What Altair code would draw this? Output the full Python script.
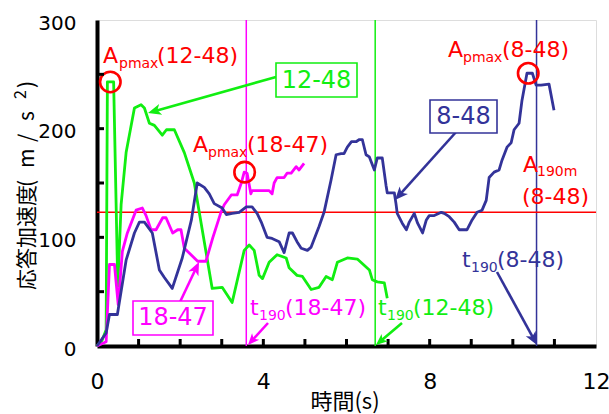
import math
import altair as alt
import pandas as pd

FONT = "Noto Sans CJK JP"   # Japanese text
LAT = "DejaVu Sans"         # numbers and Latin labels
OX, OY = 97, 20          # plot origin inside the page (padding)
W, H = 499, 326          # plot area size

GREEN = "#11ee11"
MAGENTA = "#ff00ff"
NAVY = "#333399"
RED = "#ff0000"

# ---- response acceleration time histories (time s, accel m/s2) ----
t_12_48 = [0, 0.12, 0.22, 0.25, 0.40, 0.50, 0.58, 0.70, 0.90, 1.06, 1.14, 1.26, 1.38,
           1.57, 1.67, 1.86, 2.10, 2.34, 2.77, 3.01, 3.25, 3.54, 3.66, 3.78, 3.90,
           3.98, 4.14, 4.33, 4.55, 4.62, 4.81, 4.94, 5.15, 5.34, 5.51, 5.66, 5.78,
           6.02, 6.26, 6.55, 6.62, 6.74, 6.91, 6.98]
a_12_48 = [0, 5, 15, 243, 243, 55, 130, 178, 219, 222, 219, 205, 203,
           194, 199, 199, 178, 150, 53, 54, 40, 88, 93, 88, 65,
           62, 77, 84, 81, 72, 65, 64, 52, 54, 64, 61, 77,
           81, 80, 70, 61, 59, 58, 44]

t_18_47 = [0, 0.22, 0.30, 0.42, 0.51, 0.61, 0.73, 0.94, 1.09, 1.18, 1.30, 1.42, 1.58,
           1.66, 1.82, 1.94, 2.02, 2.10, 2.42, 2.62, 2.78, 2.98, 3.06, 3.23, 3.37,
           3.47, 3.54, 3.61, 3.70, 3.73, 3.95, 4.14, 4.21, 4.26, 4.33, 4.50, 4.57,
           4.67, 4.79, 4.86, 4.98]
a_18_47 = [0, 4, 75, 75, 38, 87, 104, 125, 127, 120, 107, 107, 118,
           118, 104, 107, 107, 90, 78, 78, 99, 123, 130, 139, 139,
           150, 160, 159, 140, 143, 143, 143, 140, 150, 155, 155, 159,
           159, 165, 162, 168]

t_8_48 = [0, 0.22, 0.30, 0.49, 0.70, 0.90, 1.02, 1.14, 1.33, 1.50, 1.62, 1.81, 2.05,
          2.27, 2.41, 2.58, 2.70, 2.82, 3.01, 3.11, 3.25, 3.42, 3.59, 3.73, 3.85,
          3.95, 4.09, 4.21, 4.38, 4.50, 4.62, 4.70, 4.81, 4.91, 5.06, 5.15, 5.34,
          5.46, 5.63, 5.75, 5.87, 5.94, 6.02, 6.12, 6.23, 6.31, 6.38, 6.47, 6.55,
          6.67, 6.74, 6.86, 6.95, 6.98, 7.15, 7.19, 7.22, 7.34, 7.44, 7.51, 7.63,
          7.71, 7.83, 7.92, 7.99, 8.11, 8.28, 8.35, 8.47, 8.59, 8.71, 8.90, 9.02,
          9.14, 9.26, 9.36, 9.43, 9.55, 9.67, 9.74, 9.86, 9.96, 10.03, 10.15, 10.22,
          10.34, 10.47, 10.56, 10.68, 10.87, 10.99]
a_8_48 = [0, 12, 29, 29, 79, 104, 114, 114, 104, 70, 63, 53, 81,
          116, 150, 146, 140, 131, 127, 121, 122, 123, 128, 128, 122,
          114, 100, 99, 96, 86, 104, 104, 96, 90, 88, 91, 110,
          123, 153, 176, 177, 177, 183, 188, 188, 190, 190, 176, 174,
          162, 173, 173, 148, 141, 141, 131, 122, 113, 107, 114, 122,
          113, 104, 116, 120, 120, 123, 122, 119, 114, 107, 107, 116,
          123, 125, 134, 155, 160, 162, 171, 183, 187, 199, 205, 226,
          251, 251, 240, 240, 241, 217]

series_names = ["12-48", "18-47", "8-48"]
series_colors = [GREEN, MAGENTA, NAVY]

# peak points (A_pmax) of each record
pk_t = [0.32, 3.55, 10.37]
pk_a = [243, 160, 251]

# t190 times (vertical lines) and the A190m level (horizontal line)
t190 = [3.59, 6.69, 10.57]
t190_colors = [MAGENTA, GREEN, NAVY]
a190m = 123

x_ticks_minor = list(range(1, 12))
y_ticks_minor = [50, 100, 150, 200, 250]
x_labels = [0, 4, 8, 12]
y_labels = [0, 100, 200, 300]

rows = []
for name, ts, vs in [("12-48", t_12_48, a_12_48), ("18-47", t_18_47, a_18_47), ("8-48", t_8_48, a_8_48)]:
    for i, (t, v) in enumerate(zip(ts, vs)):
        rows.append({"series": name, "t": t, "a": v, "i": i})
df = pd.DataFrame(rows)

xscale = alt.Scale(domain=[0, 12], nice=False, zero=False)
yscale = alt.Scale(domain=[0, 300], nice=False)

xaxis = alt.Axis(values=x_labels, ticks=False, tickSize=0, grid=False, title=None,
                 domainWidth=4, domainColor="black", labelFontSize=22, labelFont=LAT,
                 labelColor="black", labelPadding=25, labelFlush=False)
yaxis = alt.Axis(values=y_labels, ticks=False, tickSize=0, grid=False, title=None,
                 domainWidth=4, domainColor="black", labelFontSize=20, labelFont=LAT,
                 labelColor="black", labelPadding=21, labelOffset=3)

X = alt.X("t:Q", scale=xscale, axis=xaxis)
Y = alt.Y("a:Q", scale=yscale, axis=yaxis)

lines = alt.Chart(df).mark_line(strokeWidth=2.8, strokeJoin="round").encode(
    x=X, y=Y,
    color=alt.Color("series:N", scale=alt.Scale(domain=series_names, range=series_colors), legend=None),
    order="i:Q",
)

vlines = alt.Chart(pd.DataFrame({"t": t190, "c": t190_colors})).mark_rule(strokeWidth=1.5).encode(
    x=X, y=alt.value(0), y2=alt.value(H),
    color=alt.Color("c:N", scale=None),
)
hline = alt.Chart(pd.DataFrame({"a": [a190m]})).mark_rule(strokeWidth=1.5, color=RED).encode(
    y=Y, x=alt.value(0), x2=alt.value(W),
)

peaks = alt.Chart(pd.DataFrame({"t": pk_t, "a": pk_a})).mark_point(
    shape="circle", size=420, filled=False, color=RED, strokeWidth=2.6, opacity=1
).encode(x=X, y=Y)

xt = alt.Chart(pd.DataFrame({"t": x_ticks_minor})).mark_rule(strokeWidth=3, color="black").encode(
    x=X, y=alt.value(H), y2=alt.value(H - 7))
yt = alt.Chart(pd.DataFrame({"a": y_ticks_minor})).mark_rule(strokeWidth=3, color="black").encode(
    y=Y, x=alt.value(0), x2=alt.value(7))


def text(s, x, y, size, color, align="left", baseline="alphabetic", angle=0, font=LAT):
    """A text piece positioned in page pixels."""
    return alt.Chart(pd.DataFrame({"s": [s]})).mark_text(
        font=font, fontSize=size, color=color, align=align, baseline=baseline, angle=angle
    ).encode(x=alt.value(x - OX), y=alt.value(y - OY), text="s:N")


def box(x0, y0, x1, y1, color):
    return alt.Chart(pd.DataFrame({"k": [0]})).mark_rect(
        fill="white", stroke=color, strokeWidth=1.6
    ).encode(x=alt.value(x0 - OX), x2=alt.value(x1 - OX), y=alt.value(y0 - OY), y2=alt.value(y1 - OY))


ARROW = "M0,-1L0.75,0.75L0,0.3L-0.75,0.75Z"


def arrow(x0, y0, x1, y1, color, head=15):
    dx, dy = x1 - x0, y1 - y0
    L = math.hypot(dx, dy)
    ux, uy = dx / L, dy / L
    r = head / 2
    cx, cy = x1 - r * ux, y1 - r * uy
    ang = math.degrees(math.atan2(dx, -dy)) % 360
    shaft = alt.Chart(pd.DataFrame({"k": [0]})).mark_rule(strokeWidth=2.6, color=color).encode(
        x=alt.value(x0 - OX), y=alt.value(y0 - OY), x2=alt.value(cx - OX), y2=alt.value(cy - OY))
    tip = alt.Chart(pd.DataFrame({"k": [0]})).mark_point(
        shape=ARROW, size=head * head, filled=True, color=color, opacity=1, angle=ang
    ).encode(x=alt.value(cx - OX), y=alt.value(cy - OY))
    return [shaft, tip]


MAIN, SUB, BOXF = 22, 14, 24
ann = []
# A_pmax labels
ann += [text("A", 103, 63, MAIN, RED), text("pmax", 119, 68, SUB, RED), text("(12-48)", 157, 63, MAIN, RED)]
ann += [text("A", 193, 152, MAIN, RED), text("pmax", 208, 157, SUB, RED), text("(18-47)", 247, 152, MAIN, RED)]
ann += [text("A", 448, 57, MAIN, RED), text("pmax", 463, 62, SUB, RED), text("(8-48)", 502, 57, MAIN, RED)]
ann += [text("A", 523, 172, MAIN, RED), text("190m", 537, 176, SUB, RED), text("(8-48)", 522, 204, MAIN, RED)]
# t190 labels
ann += [text("t", 250, 315, MAIN, MAGENTA), text("190", 259, 320, SUB, MAGENTA), text("(18-47)", 285, 315, MAIN, MAGENTA)]
ann += [text("t", 378, 315, MAIN, GREEN), text("190", 387, 320, SUB, GREEN), text("(12-48)", 413, 315, MAIN, GREEN)]
ann += [text("t", 462, 267, MAIN, NAVY), text("190", 471, 272, SUB, NAVY), text("(8-48)", 497, 267, MAIN, NAVY)]
# arrows
ann += arrow(276, 77, 148, 113, GREEN)
ann += arrow(457, 131, 395, 200, NAVY)
ann += arrow(180, 302, 199, 262, MAGENTA)
ann += arrow(268, 323, 248, 345, MAGENTA, head=13)
ann += arrow(402, 323, 376, 345, GREEN, head=13)
ann += arrow(497, 272, 537, 345, NAVY, head=15)
# series name boxes
ann += [box(276, 63, 357, 97, GREEN), text("12-48", 316.5, 81, BOXF, GREEN, align="center", baseline="middle")]
ann += [box(430, 100, 497, 133, NAVY), text("8-48", 463.5, 117, BOXF, NAVY, align="center", baseline="middle")]
ann += [box(133, 301, 213, 335, MAGENTA), text("18-47", 173, 318, BOXF, MAGENTA, align="center", baseline="middle")]

# axis titles (the vertical one is laid out piece by piece, reading bottom to top)
titles = [
    text("時間(s)", 345, 392, 22, "black", align="center", baseline="top", font=FONT),
    text("応答加速度", 28, 290, 21, "black", baseline="middle", angle=270, font=FONT),
    text("(", 28, 187, 21, "black", baseline="middle", angle=270, font=FONT),
    text("m", 28, 168, 21, "black", baseline="middle", angle=270, font=FONT),
    text("/", 28, 142, 21, "black", baseline="middle", angle=270, font=FONT),
    text("s", 28, 121, 21, "black", baseline="middle", angle=270, font=FONT),
    text("2", 21, 99, 16, "black", baseline="middle", angle=270, font=FONT),
    text(")", 28, 88, 21, "black", baseline="middle", angle=270, font=FONT),
]

chart = alt.layer(
    vlines, hline, lines, peaks, xt, yt, *ann, *titles
).properties(
    width=W, height=H,
    padding={"left": OX, "top": OY, "right": 609 - OX - W, "bottom": 414 - OY - H},
    autosize=alt.AutoSizeParams(type="none"),
).configure_view(stroke="black", strokeWidth=3).configure(background="white")

chart.save("out.html", embed_options={"renderer": "svg", "actions": False})
